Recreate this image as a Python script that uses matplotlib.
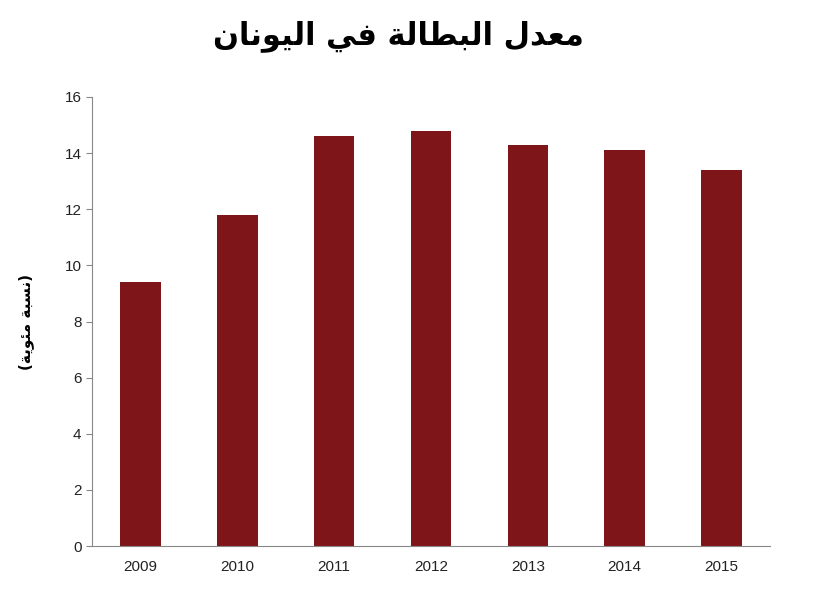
import matplotlib
matplotlib.use("Agg")
import matplotlib.pyplot as plt

years = ["2009", "2010", "2011", "2012", "2013", "2014", "2015"]
rates = [9.4, 11.8, 14.6, 14.8, 14.3, 14.1, 13.4]
yticks = [0, 2, 4, 6, 8, 10, 12, 14, 16]

# Arabic text in visual order with presentation forms (matplotlib has no shaping)
title = ("\uFEE5\uFE8E\uFEE7\uFEEE\uFEF4\uFEDF\uFE8D " + "\uFEF2\uFED3 " +
         "\uFE94\uFEDF\uFE8E\uFEC4\uFE92\uFEDF\uFE8D " + "\uFEDD\uFEAA\uFECC\uFEE3")
ylabel = "(" + "\uFE94\uFEF3\uFEEE\uFE8C\uFEE3" + " " + "\uFE94\uFE92\uFEB4\uFEE7" + ")"

fig = plt.figure(figsize=(8.3, 6.08), dpi=100)
ax = fig.add_axes([92/830, 62/608, 678/830, 449/608])
x = range(len(years))
ax.bar(x, rates, width=0.42, color="#7E1518")
ax.set_xticks(list(x))
ax.set_xticklabels(years, fontsize=11, family=["Liberation Sans", "DejaVu Sans"])
ax.set_yticks(yticks)
ax.set_yticklabels([str(v) for v in yticks], fontsize=11, family=["Liberation Sans", "DejaVu Sans"])
ax.set_ylim(0, 16)
ax.set_xlim(-0.5, len(years) - 0.5)
for s in ["top", "right"]:
    ax.spines[s].set_visible(False)
for s in ["left", "bottom"]:
    ax.spines[s].set_color("#888888")
ax.tick_params(axis="both", colors="#888888", labelcolor="#222222", length=4)
ax.tick_params(axis="x", length=0, pad=10)
ax.set_ylabel(ylabel, family="DejaVu Sans", fontsize=11, fontweight="bold", labelpad=22)
fig.text(0.48, 0.94, title, ha="center", va="center", family="DejaVu Sans",
         fontsize=22, fontweight="bold")
fig.savefig("out.png", dpi=100)
